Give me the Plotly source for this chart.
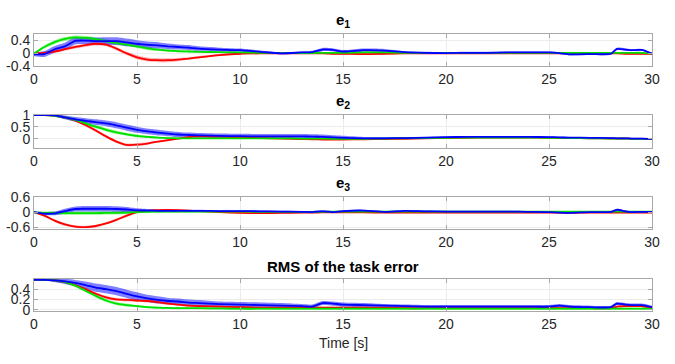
import plotly.graph_objects as go
from plotly.subplots import make_subplots

# ---------------- data ----------------
t = [0, 0.5, 1, 1.5, 2, 2.5, 3, 3.5, 4, 4.5, 5, 5.5, 6, 6.5, 7, 7.5, 8, 9, 10, 11, 12, 13, 13.5, 14, 14.5,
     15, 16, 17, 18, 19, 20, 21, 22, 23, 24, 25, 25.5, 26, 27, 28, 28.3, 28.7, 29, 29.5, 30]

titles = ["<b>e<sub>1</sub></b>", "<b>e<sub>2</sub></b>", "<b>e<sub>3</sub></b>", "<b>RMS of the task error</b>"]
x_ticks = [0, 5, 10, 15, 20, 25, 30]
y_ticks = [[-0.4, 0, 0.4], [0, 0.5, 1], [-0.6, 0, 0.6], [0, 0.2, 0.4]]
y_ticktext = [["-0.4", "0", "0.4"], ["0", "0.5", "1"], ["-0.6", "0", "0.6"], ["0", "0.2", "0.4"]]
y_ranges = [[-0.4, 0.6], [-0.4, 1.0], [-0.65, 0.6], [-0.02, 0.6]]

# e1
e1_red = [0.0, 0.02, 0.06, 0.13, 0.2, 0.26, 0.3, 0.27, 0.15, 0.0, -0.12, -0.19, -0.21, -0.21, -0.19, -0.16, -0.12,
          -0.05, -0.01, 0.0, 0.0, 0.0, 0.0, 0.0, -0.01, -0.01, -0.02, -0.01, 0.0, 0.0, 0.0, 0.0, 0.0, 0.0, 0.0,
          0.0, 0.0, 0.0, 0.0, 0.0, 0.0, -0.01, -0.01, -0.01, -0.01]
e1_green = [0.0, 0.2, 0.35, 0.45, 0.5, 0.48, 0.44, 0.38, 0.32, 0.27, 0.22, 0.16, 0.12, 0.09, 0.07, 0.06, 0.05,
            0.04, 0.03, 0.02, 0.01, 0.01, 0.01, 0.02, 0.02, 0.02, 0.03, 0.03, 0.02, 0.02, 0.02, 0.02, 0.02, 0.02,
            0.02, 0.02, 0.02, 0.02, 0.02, 0.02, 0.02, 0.02, 0.02, 0.02, 0.0]
e1_blue = [-0.03, -0.02, 0.13, 0.22, 0.39, 0.4, 0.38, 0.38, 0.38, 0.34, 0.3, 0.27, 0.25, 0.22, 0.2, 0.18, 0.15,
           0.12, 0.1, 0.05, 0.0, 0.03, 0.04, 0.12, 0.11, 0.06, 0.1, 0.09, 0.04, 0.02, 0.01, 0.02, 0.02, 0.03,
           0.03, 0.03, 0.01, -0.03, -0.02, -0.01, 0.14, 0.12, 0.1, 0.11, -0.01]
e1_red_sd = [0.03, 0.05, 0.05, 0.05, 0.05, 0.05, 0.05, 0.05, 0.05, 0.05, 0.06, 0.06, 0.06, 0.06, 0.05, 0.04,
             0.04, 0.03, 0.02, 0.02, 0.02, 0.02, 0.02, 0.02, 0.02, 0.02, 0.03, 0.02, 0.02, 0.02, 0.02, 0.02,
             0.02, 0.02, 0.02, 0.02, 0.02, 0.02, 0.02, 0.02, 0.02, 0.02, 0.02, 0.02, 0.02]
e1_green_sd = [0.03, 0.05, 0.06, 0.06, 0.06, 0.06, 0.06, 0.06, 0.05, 0.05, 0.05, 0.05, 0.04, 0.04, 0.04, 0.03,
               0.03, 0.03, 0.02, 0.02, 0.02, 0.02, 0.02, 0.02, 0.02, 0.02, 0.02, 0.02, 0.02, 0.02, 0.02, 0.02,
               0.02, 0.02, 0.02, 0.02, 0.02, 0.02, 0.02, 0.02, 0.02, 0.02, 0.02, 0.02, 0.02]
e1_blue_sd = [0.06, 0.09, 0.1, 0.11, 0.11, 0.11, 0.11, 0.12, 0.12, 0.12, 0.11, 0.1, 0.1, 0.09, 0.08, 0.08,
              0.07, 0.06, 0.05, 0.04, 0.03, 0.03, 0.04, 0.05, 0.05, 0.04, 0.05, 0.05, 0.03, 0.03, 0.03, 0.03,
              0.03, 0.03, 0.03, 0.03, 0.03, 0.03, 0.03, 0.03, 0.04, 0.04, 0.03, 0.03, 0.03]

# e2
e2_red = [1.0, 1.0, 0.97, 0.9, 0.78, 0.58, 0.35, 0.1, -0.12, -0.26, -0.25, -0.2, -0.12, -0.06, 0.01, 0.07, 0.1,
          0.09, 0.06, 0.03, 0.01, -0.01, -0.02, -0.03, -0.03, -0.03, -0.02, -0.01, 0.0, 0.02, 0.03, 0.04, 0.05,
          0.05, 0.05, 0.04, 0.04, 0.03, 0.02, 0.01, 0.01, 0.01, 0.0, 0.0, 0.0]
e2_green = [1.0, 1.0, 0.97, 0.9, 0.8, 0.65, 0.51, 0.38, 0.27, 0.19, 0.12, 0.08, 0.05, 0.03, 0.02, 0.02, 0.02,
            0.02, 0.02, 0.02, 0.02, 0.01, 0.01, 0.01, 0.0, 0.0, 0.0, 0.01, 0.02, 0.03, 0.04, 0.05, 0.05, 0.05,
            0.05, 0.04, 0.04, 0.03, 0.02, 0.01, 0.01, 0.01, 0.0, 0.0, 0.0]
e2_blue = [1.0, 1.0, 0.99, 0.9, 0.82, 0.76, 0.7, 0.65, 0.57, 0.47, 0.38, 0.31, 0.26, 0.22, 0.18, 0.16, 0.14,
           0.12, 0.11, 0.1, 0.1, 0.1, 0.09, 0.08, 0.06, 0.04, 0.02, 0.02, 0.03, 0.05, 0.07, 0.08, 0.08, 0.08,
           0.08, 0.07, 0.06, 0.05, 0.04, 0.03, 0.02, 0.02, 0.01, 0.01, 0.0]
e2_red_sd = [0.0, 0.02, 0.04, 0.05, 0.06, 0.06, 0.06, 0.06, 0.06, 0.06, 0.06, 0.05, 0.04, 0.04, 0.04, 0.04,
             0.04, 0.03, 0.02, 0.02, 0.02, 0.02, 0.02, 0.02, 0.02, 0.02, 0.02, 0.02, 0.02, 0.02, 0.02, 0.02,
             0.02, 0.02, 0.02, 0.02, 0.02, 0.02, 0.02, 0.02, 0.02, 0.02, 0.02, 0.02, 0.02]
e2_green_sd = [0.0, 0.02, 0.04, 0.06, 0.07, 0.07, 0.07, 0.07, 0.07, 0.06, 0.06, 0.05, 0.04, 0.04, 0.03, 0.03,
               0.03, 0.03, 0.02, 0.02, 0.02, 0.02, 0.02, 0.02, 0.02, 0.02, 0.02, 0.02, 0.02, 0.02, 0.02, 0.02,
               0.02, 0.02, 0.02, 0.02, 0.02, 0.02, 0.02, 0.02, 0.02, 0.02, 0.02, 0.02, 0.02]
e2_blue_sd = [0.0, 0.02, 0.05, 0.08, 0.1, 0.11, 0.12, 0.12, 0.13, 0.13, 0.13, 0.12, 0.12, 0.11, 0.11, 0.1,
              0.1, 0.1, 0.1, 0.1, 0.1, 0.1, 0.1, 0.1, 0.09, 0.09, 0.06, 0.05, 0.04, 0.03, 0.03, 0.03,
              0.03, 0.03, 0.03, 0.03, 0.03, 0.03, 0.03, 0.03, 0.03, 0.03, 0.03, 0.03, 0.03]

# e3
e3_red = [0.0, -0.14, -0.33, -0.48, -0.56, -0.58, -0.54, -0.44, -0.3, -0.14, 0.0, 0.05, 0.08, 0.09, 0.08, 0.06,
          0.04, 0.0, -0.03, -0.04, -0.03, -0.02, -0.02, -0.01, -0.01, -0.01, -0.01, -0.02, -0.02, -0.02, -0.02,
          -0.02, -0.02, -0.02, -0.02, -0.02, -0.02, -0.02, -0.02, -0.02, -0.02, -0.02, -0.02, -0.02, -0.02]
e3_green = [-0.01, -0.03, -0.04, -0.04, -0.04, -0.04, -0.04, -0.03, -0.03, -0.02, 0.0, 0.01, 0.02, 0.02, 0.02,
            0.02, 0.02, 0.02, 0.02, 0.01, 0.01, 0.01, 0.01, 0.01, 0.02, 0.02, 0.02, 0.02, 0.02, 0.02, 0.02, 0.02,
            0.02, 0.02, 0.02, 0.02, 0.02, 0.02, 0.02, 0.02, 0.02, 0.02, 0.02, 0.02, 0.02]
e3_blue = [0.0, -0.06, -0.05, 0.04, 0.12, 0.13, 0.13, 0.13, 0.12, 0.1, 0.07, 0.06, 0.05, 0.05, 0.05, 0.05, 0.05,
           0.04, 0.04, 0.03, 0.02, 0.01, 0.0, 0.03, 0.0, 0.04, 0.06, 0.01, 0.05, 0.03, 0.02, 0.02, 0.02, 0.02,
           0.01, 0.0, -0.02, -0.03, 0.0, 0.01, 0.09, 0.03, 0.0, 0.01, 0.01]
e3_red_sd = [0.02, 0.04, 0.05, 0.05, 0.05, 0.05, 0.05, 0.05, 0.05, 0.05, 0.04, 0.04, 0.03, 0.03, 0.03, 0.03,
             0.03, 0.02, 0.02, 0.02, 0.02, 0.02, 0.02, 0.02, 0.02, 0.02, 0.02, 0.02, 0.02, 0.02, 0.02, 0.02,
             0.02, 0.02, 0.02, 0.02, 0.02, 0.02, 0.02, 0.02, 0.02, 0.02, 0.02, 0.02, 0.02]
e3_green_sd = [0.02, 0.05, 0.06, 0.06, 0.06, 0.06, 0.06, 0.06, 0.06, 0.05, 0.05, 0.04, 0.03, 0.03, 0.03, 0.03,
               0.03, 0.02, 0.02, 0.02, 0.02, 0.02, 0.02, 0.02, 0.02, 0.02, 0.02, 0.02, 0.02, 0.02, 0.02, 0.02,
               0.02, 0.02, 0.02, 0.02, 0.02, 0.02, 0.02, 0.02, 0.02, 0.02, 0.02, 0.02, 0.02]
e3_blue_sd = [0.04, 0.06, 0.07, 0.09, 0.1, 0.11, 0.11, 0.11, 0.11, 0.1, 0.08, 0.06, 0.05, 0.04, 0.04, 0.04,
              0.04, 0.03, 0.03, 0.03, 0.03, 0.03, 0.04, 0.04, 0.04, 0.03, 0.03, 0.03, 0.03, 0.03, 0.03, 0.03,
              0.03, 0.03, 0.03, 0.03, 0.03, 0.04, 0.03, 0.03, 0.04, 0.04, 0.03, 0.03, 0.03]

# RMS
rms_red = [0.58, 0.58, 0.57, 0.54, 0.48, 0.4, 0.31, 0.24, 0.2, 0.19, 0.18, 0.17, 0.15, 0.12, 0.1, 0.08, 0.07,
           0.06, 0.05, 0.04, 0.04, 0.04, 0.04, 0.04, 0.04, 0.04, 0.04, 0.04, 0.03, 0.03, 0.03, 0.03, 0.03, 0.03,
           0.03, 0.03, 0.03, 0.03, 0.03, 0.03, 0.06, 0.07, 0.07, 0.07, 0.04]
rms_green = [0.58, 0.58, 0.57, 0.54, 0.47, 0.37, 0.27, 0.18, 0.12, 0.09, 0.07, 0.05, 0.04, 0.035, 0.03, 0.03,
             0.03, 0.025, 0.02, 0.02, 0.02, 0.02, 0.02, 0.02, 0.02, 0.02, 0.02, 0.02, 0.02, 0.02, 0.02, 0.02,
             0.02, 0.02, 0.02, 0.02, 0.02, 0.02, 0.02, 0.02, 0.02, 0.02, 0.02, 0.02, 0.02]
rms_blue = [0.58, 0.58, 0.57, 0.55, 0.52, 0.48, 0.43, 0.4, 0.36, 0.31, 0.26, 0.22, 0.19, 0.17, 0.16, 0.14, 0.13,
            0.11, 0.1, 0.09, 0.08, 0.07, 0.06, 0.13, 0.12, 0.1, 0.09, 0.08, 0.07, 0.06, 0.06, 0.06, 0.06, 0.06,
            0.06, 0.06, 0.08, 0.06, 0.05, 0.05, 0.12, 0.1, 0.09, 0.09, 0.05]
rms_red_sd = [0.0, 0.01, 0.02, 0.03, 0.03, 0.03, 0.03, 0.03, 0.03, 0.03, 0.03, 0.03, 0.03, 0.03, 0.02, 0.02,
              0.02, 0.02, 0.02, 0.02, 0.02, 0.02, 0.02, 0.02, 0.02, 0.02, 0.02, 0.02, 0.02, 0.02, 0.02, 0.02,
              0.02, 0.02, 0.02, 0.02, 0.02, 0.02, 0.02, 0.02, 0.02, 0.02, 0.02, 0.02, 0.02]
rms_green_sd = [0.0, 0.01, 0.02, 0.03, 0.03, 0.03, 0.03, 0.03, 0.03, 0.03, 0.02, 0.02, 0.02, 0.02, 0.02, 0.02,
                0.02, 0.02, 0.02, 0.02, 0.02, 0.02, 0.02, 0.02, 0.02, 0.02, 0.02, 0.02, 0.02, 0.02, 0.02, 0.02,
                0.02, 0.02, 0.02, 0.02, 0.02, 0.02, 0.02, 0.02, 0.02, 0.02, 0.02, 0.02, 0.02]
rms_blue_sd = [0.0, 0.01, 0.03, 0.05, 0.06, 0.07, 0.08, 0.08, 0.08, 0.08, 0.08, 0.07, 0.07, 0.06, 0.06, 0.06,
               0.06, 0.05, 0.05, 0.05, 0.05, 0.04, 0.04, 0.04, 0.04, 0.04, 0.04, 0.03, 0.03, 0.03, 0.03, 0.03,
               0.03, 0.03, 0.03, 0.03, 0.03, 0.03, 0.03, 0.03, 0.03, 0.03, 0.03, 0.03, 0.03]

panels = [
    [(e1_red, e1_red_sd), (e1_green, e1_green_sd), (e1_blue, e1_blue_sd)],
    [(e2_red, e2_red_sd), (e2_green, e2_green_sd), (e2_blue, e2_blue_sd)],
    [(e3_red, e3_red_sd), (e3_green, e3_green_sd), (e3_blue, e3_blue_sd)],
    [(rms_red, rms_red_sd), (rms_green, rms_green_sd), (rms_blue, rms_blue_sd)],
]

# ---------------- styling ----------------
W, H = 675, 364
line_colors = ["#ff0000", "#00e000", "#0000ff"]
band_colors = ["rgba(255,40,40,0.35)", "rgba(0,235,0,0.42)", "rgba(0,0,255,0.5)"]
# plot box pixel extents (top, bottom)
boxes = [(27.3, 61.0), (112.0, 146.7), (197.3, 231.0), (283.3, 316.7)]
FONT = "Liberation Sans, Arial, Helvetica, sans-serif"

fig = make_subplots(rows=4, cols=1)

for i, series in enumerate(panels):
    r = i + 1
    for j, (m, sd) in enumerate(series):
        up = [a + b for a, b in zip(m, sd)]
        lo = [a - b for a, b in zip(m, sd)]
        fig.add_trace(go.Scatter(x=t, y=up, mode="lines", line=dict(width=0, shape="spline", smoothing=0.6),
                                 showlegend=False, hoverinfo="skip"), row=r, col=1)
        fig.add_trace(go.Scatter(x=t, y=lo, mode="lines", line=dict(width=0, shape="spline", smoothing=0.6),
                                 fill="tonexty", fillcolor=band_colors[j], showlegend=False, hoverinfo="skip"),
                      row=r, col=1)
    for j, (m, sd) in enumerate(series):
        fig.add_trace(go.Scatter(x=t, y=m, mode="lines",
                                 line=dict(color=line_colors[j], width=1.8, shape="spline", smoothing=0.6),
                                 showlegend=False), row=r, col=1)

    top, bot = boxes[i]
    fig.update_yaxes(domain=[1 - bot / H, 1 - top / H], range=y_ranges[i], tickvals=y_ticks[i],
                     ticktext=y_ticktext[i], row=r, col=1)
    fig.update_xaxes(range=[0, 30], tickvals=x_ticks, row=r, col=1)
    fig.add_annotation(text=titles[i], x=0.5, xref="paper", y=1 - top / H, yref="paper",
                       yanchor="bottom", yshift=2, showarrow=False,
                       font=dict(family=FONT, size=15, color="#000000"))

common = dict(showline=True, mirror="ticks", linecolor="#a8a8a8", linewidth=1,
              showgrid=True, gridcolor="#ececec", gridwidth=1, zeroline=False,
              ticks="inside", ticklen=4, tickcolor="#a8a8a8",
              tickfont=dict(family=FONT, size=14, color="#262626"))
fig.update_xaxes(**common)
fig.update_yaxes(**common)

fig.add_annotation(text="Time [s]", x=0.5, xref="paper", y=1 - 350 / H, yref="paper",
                   yanchor="middle", showarrow=False, font=dict(family=FONT, size=14, color="#262626"))

fig.update_layout(width=W, height=H, margin=dict(l=34, r=23, t=0, b=0),
                  paper_bgcolor="white", plot_bgcolor="white", showlegend=False)

fig.write_html("out.html")
